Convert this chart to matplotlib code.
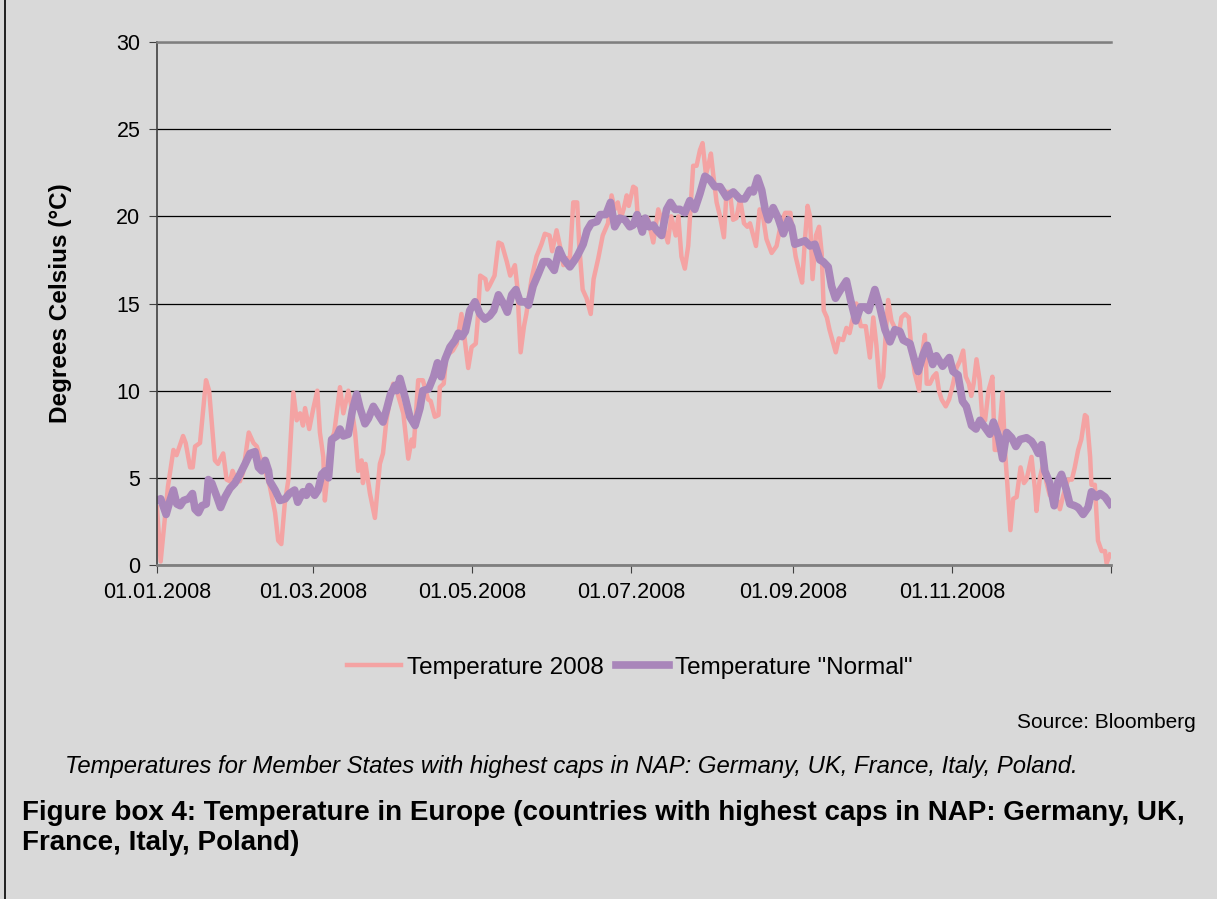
import matplotlib
matplotlib.use("Agg")
import matplotlib.pyplot as plt
from matplotlib.lines import Line2D
import pandas as pd

plt.rcParams['font.family'] = ['Liberation Sans', 'DejaVu Sans']

# Data: day of year 2008 and temperature (deg C)
t2008_day = [0, 1.4, 4.2, 6.3, 7.5, 10, 11, 12.7, 13.7, 14.6, 16.5, 18.8, 20, 22.2, 23.4, 24, 25.4,
             26.7, 28, 29, 30.5, 31.8, 33, 35.2, 37, 38.3, 39.5, 41.5, 43.3, 45.3, 46.5, 47.7, 49,
             50.4, 52.3, 53.6, 54.9, 56, 56.8, 58.4, 60, 61.5, 62.5, 63.8, 64.4, 65, 66.4, 68, 70.2,
             71.5, 73.4, 74.7, 76, 77.2, 78.5, 79, 80, 81.7, 83.6, 85.5, 86.7, 88, 89.4, 90.6, 92,
             94.5, 96.4, 97.7, 98.5, 100.2, 102, 104, 105, 106.6, 108, 108.5, 110, 111, 113.5, 115,
             116.8, 118, 119.4, 120.7, 122.3, 123, 124, 126, 126.7, 127.5, 129.5, 131, 132.3, 134.2,
             135.5, 137.3, 138.2, 139.5, 140.8, 141.7, 143.7, 145.6, 147.5, 148.8, 150.6, 151.6,
             153.3, 154.6, 155.9, 157, 158.4, 159.7, 161.2, 162, 163.3, 164.8, 166.4, 167.5, 169.3,
             171, 173, 174.4, 175.6, 176.8, 178, 179, 180.2, 181, 182.7, 183.7, 184.6, 186, 187,
             188.3, 190.4, 192.3, 193.6, 196, 197.3, 199, 200, 201.2, 202.5, 203.8, 204.5, 205.7,
             207, 208.3, 209.3, 210.6, 211.5, 212.5, 213.4, 214.7, 216, 217.5, 218.5, 219.8, 221,
             222.3, 223.7, 225.2, 226.5, 227.5, 229.8, 231.2, 232.5, 233.8, 235.8, 237.7, 239.4,
             241, 243, 243.8, 245, 246.6, 247.5, 248.6, 249.6, 250.5, 251.5, 252.8, 254, 255, 255.8,
             257, 258, 259.3, 260.4, 261.6, 263.2, 264.5, 265.7, 267, 268.3, 270, 271.9, 273.5,
             274.8, 276, 277.3, 278.6, 279.6, 280.5, 281.8, 283.4, 284.7, 285.6, 287, 288.4, 289.3,
             290.7, 292.4, 293.3, 294.6, 295.3, 296.5, 297.8, 299, 300, 301, 302.6, 303.9, 305.4,
             306.7, 308, 309.3, 310.3, 311.5, 312.4, 313.3, 314.4, 315.6, 316.6, 317.7, 319, 320.5,
             321.4, 322.6, 324.4, 325.3, 326.2, 327.4, 328.5, 329.8, 331.3, 332.6, 333.6, 335.5,
             336.8, 337.4, 338.7, 340, 341.3, 342.5, 344.2, 345.7, 346.4, 347.7, 349.5, 351, 352.1,
             353.4, 354.6, 356, 356.7, 358, 358.5, 359.8, 361, 362.4, 363.7, 364.3, 365.6]
t2008_val = [3.3, 0.2, 4.5, 6.6, 6.3, 7.4, 7.0, 5.6, 5.6, 6.8, 7.0, 10.6, 10.0, 6.0, 5.8, 6.0, 6.4,
             4.9, 4.8, 5.4, 4.8, 4.8, 5.3, 7.6, 7.0, 6.8, 6.2, 5.4, 4.5, 3.0, 1.4, 1.2, 3.5,
             4.9, 9.9, 8.3, 8.7, 8.0, 9.0, 7.8, 9.0, 10.0, 7.6, 6.2, 3.7, 4.6, 7.0, 7.6, 10.2,
             8.7, 10.0, 9.0, 7.6, 5.4, 6.0, 4.7, 5.8, 4.1, 2.7, 5.8, 6.4, 8.3, 9.5, 10.4, 10.0,
             8.7, 6.1, 7.2, 6.8, 10.6, 10.6, 9.5, 9.4, 8.5, 8.6, 10.2, 10.4, 12.0, 12.3, 12.7,
             14.4, 13.0, 11.3, 12.5, 12.7, 14.0, 16.6, 16.4, 15.8, 16.0, 16.6, 18.5, 18.4, 17.4,
             16.6, 17.2, 16.0, 12.2, 13.7, 14.4, 16.4, 17.7, 18.4, 19.0, 18.9, 18.0,
             19.2, 18.3, 17.2, 17.6, 17.6, 20.8, 20.8, 18.3, 15.8, 15.3, 14.4, 16.4, 17.6,
             18.9, 19.6, 21.2, 20.4, 20.8, 19.9, 20.4, 21.2, 20.6, 21.7, 21.6, 19.6, 19.8, 19.8,
             19.9, 18.5, 20.4, 19.8, 18.5, 20.0, 18.9, 20.0, 17.7, 17.0, 18.3, 20.0, 22.9,
             22.9, 23.8, 24.2, 22.4, 22.9, 23.6, 22.4, 20.8, 20.0, 18.8, 21.4, 21.4, 19.8,
             19.9, 21.0, 19.6, 19.4, 19.6, 18.3, 20.4, 20.0, 18.7, 17.9, 18.3, 19.6,
             20.2, 20.2, 19.0, 17.7, 16.7, 16.2, 18.7, 20.6, 20.0, 16.4, 18.9, 19.4, 17.9, 14.6,
             14.2, 13.5, 12.8, 12.2, 13.0, 12.9, 13.6, 13.3, 14.2, 15.0, 13.7, 13.7, 11.9,
             14.2, 12.6, 10.2, 10.8, 13.3, 15.2, 14.0, 13.5, 13.3, 14.2, 14.4, 14.2, 12.6,
             11.0, 10.0, 11.9, 13.2, 10.4, 10.4, 10.8, 11.0, 10.0, 9.5, 9.1, 9.5, 10.4,
             11.3, 11.7, 12.3, 10.8, 10.4, 9.7, 10.4, 11.8, 10.6, 8.5, 8.3, 10.0, 10.8,
             6.6, 6.6, 9.9, 6.6, 4.7, 2.0, 3.8, 3.9, 5.6, 4.7, 4.9, 6.2,
             4.4, 3.1, 5.0, 5.8, 4.7, 4.0, 4.1, 3.6, 3.2, 4.0, 4.9, 4.9, 5.6,
             6.6, 7.2, 8.6, 8.5, 6.2, 4.6, 4.6, 1.4, 0.8, 0.8, 0.1, 0.6]

normal_day = [0, 1.4, 3.5, 5, 6.3, 7.6, 8.9, 10.2, 12.1, 13.6, 14.6, 15.9, 17.2, 18.9, 19.7, 21, 23,
              24.4, 26.1, 28, 29.9, 31.8, 33.8, 35.7, 37.6, 38.9, 40.2, 41.5, 42.8, 43.3, 45.3,
              47.2, 49.2, 50.8, 52.8, 54, 56, 57.3, 58.4, 60.5, 61.8, 63.2, 64.5, 65.8, 67, 69,
              70.2, 71.5, 73.4, 75, 76.6, 77.9, 79.8, 81.1, 83, 85, 86.7, 88.2, 89.6, 91.3, 92,
              93.2, 95.2, 97, 99, 100.9, 102, 104.2, 106.1, 107.6, 109, 110.5, 112.4, 114.4, 115.6,
              117, 118.3, 120, 122, 123.9, 125.8, 127.7, 129.2, 131, 132.9, 134.4, 136.1, 137.7,
              139.3, 141.3, 142.5, 144.3, 146.3, 148.2, 150.1, 152.4, 154.3, 155.8, 158.4, 160.3,
              161.5, 163.5, 165, 166.6, 168.8, 170.1, 172.2, 174, 175.6, 177.5, 179.5, 181.4,
              182.7, 184.2, 186.2, 187.3, 188.8, 190.4, 191.7, 193.6, 195.5, 197, 198.7, 200.6,
              202.5, 204.4, 206.3, 208.3, 210.2, 212.1, 214, 216, 218.5, 221.1, 223.6, 225.5,
              227.5, 228.8, 230.4, 232, 233.3, 234.5, 236.4, 238.3, 240.3, 242.2, 243.5, 244.7,
              246.6, 248.6, 250.5, 252.4, 254.3, 255.6, 257.5, 258.8, 260.3, 262.3, 264.5, 266.1,
              268.1, 269.9, 271.6, 273, 275.4, 277.3, 279.3, 281.2, 283.1, 285, 286.3, 288.9,
              290.5, 292, 294, 295.5, 297.6, 299, 301.4, 304, 305.4, 307.3, 309, 310.5, 312.5,
              314.2, 315.7, 317.6, 319.5, 320.9, 322.8, 324.4, 326, 327.9, 329.5, 331.1, 333.6,
              335.5, 336.8, 338.1, 339.4, 340.6, 342.5, 344.2, 345.7, 347, 348.9, 350.2, 352.1,
              353.4, 355.3, 357.2, 358.5, 360.4, 361.8, 363.7, 365.6]
normal_val = [3.7, 3.8, 2.9, 3.7, 4.3, 3.5, 3.4, 3.7, 3.8, 4.1, 3.2, 3.0, 3.4, 3.5, 4.9, 4.7, 3.9,
              3.3, 3.9, 4.4, 4.7, 5.2, 5.8, 6.4, 6.5, 5.6, 5.4, 6.0, 5.4, 4.8, 4.3,
              3.7, 3.8, 4.1, 4.3, 3.6, 4.2, 4.0, 4.5, 4.0, 4.3, 5.2, 5.4, 5.0, 7.2, 7.4,
              7.8, 7.4, 7.5, 8.9, 9.8, 9.0, 8.1, 8.4, 9.1, 8.6, 8.2, 9.0, 9.8, 10.3, 10.0,
              10.7, 9.6, 8.5, 8.0, 9.0, 10.0, 10.1, 10.8, 11.6, 10.8, 11.8, 12.5, 12.9, 13.3,
              13.1, 13.4, 14.6, 15.1, 14.4, 14.1, 14.3, 14.6, 15.5, 15.0, 14.5, 15.5, 15.8,
              15.1, 15.1, 14.9, 16.0, 16.7, 17.4, 17.4, 16.9, 18.1, 17.6, 17.1, 17.5,
              17.8, 18.4, 19.2, 19.6, 19.7, 20.1, 20.1, 20.8, 19.4, 19.9, 19.8, 19.4,
              19.5, 20.1, 19.1, 19.9, 19.4, 19.5, 19.2, 18.9, 20.4, 20.8, 20.4, 20.4,
              20.2, 20.9, 20.4, 21.3, 22.3, 22.1, 21.7, 21.7, 21.1, 21.4, 21.0, 21.0,
              21.5, 21.4, 22.2, 21.5, 20.4, 19.8, 20.5, 19.9, 19.0, 19.8, 19.4, 18.4,
              18.5, 18.6, 18.3, 18.4, 17.5, 17.4, 17.1, 16.0, 15.3, 15.8, 16.3, 15.2,
              14.0, 14.8, 14.8, 14.6, 15.8, 14.8, 13.5, 12.8, 13.5, 13.4, 12.9, 12.7,
              11.8, 11.1, 12.1, 12.6, 11.5, 12.0, 11.4, 11.9, 11.1, 10.9, 9.4, 9.1, 8.0,
              7.8, 8.3, 7.9, 7.5, 8.2, 7.4, 6.1, 7.6, 7.3, 6.8, 7.2, 7.3,
              7.1, 6.8, 6.4, 6.9, 5.4, 4.7, 3.4, 4.8, 5.2, 4.3, 3.5, 3.4,
              3.3, 2.9, 3.3, 4.2, 3.9, 4.1, 3.9, 3.5]

start = pd.Timestamp('2008-01-01')
x2008 = start + pd.to_timedelta(t2008_day, unit='D')
xnorm = start + pd.to_timedelta(normal_day, unit='D')

bg = '#D9D9D9'
pink = '#F4A3A3'
purple = '#A986BA'

fig = plt.figure(figsize=(12.17, 8.99), dpi=100, facecolor=bg)
ax = fig.add_axes([157/1217, 1-565/899, (1111-157)/1217, (565-42)/899])
ax.set_facecolor(bg)

ax.plot(x2008, t2008_val, color=pink, lw=3.2, solid_joinstyle='round', label='Temperature 2008')
ax.plot(xnorm, normal_val, color=purple, lw=5.5, solid_joinstyle='round',
        label='Temperature "Normal"')

ax.set_ylim(0, 30)
ax.set_yticks(range(0, 31, 5))
ax.set_xlim(start, pd.Timestamp('2009-01-01'))
ticks = pd.date_range('2008-01-01', '2009-01-01', freq='2MS')
ax.set_xticks(ticks)
ax.set_xticklabels([d.strftime('%d.%m.%Y') for d in ticks[:-1]] + [''])

ax.set_axisbelow(True)
ax.yaxis.grid(True, color='black', lw=0.9)
ax.spines['right'].set_visible(False)
ax.spines['top'].set_color('#7F7F7F')
ax.spines['top'].set_linewidth(1.8)
ax.spines['left'].set_color('#404040')
ax.spines['left'].set_linewidth(1.2)
ax.spines['bottom'].set_color('#7F7F7F')
ax.spines['bottom'].set_linewidth(2)
ax.tick_params(axis='both', direction='out', length=6, labelsize=15.5, colors='#404040',
               labelcolor='black', pad=6)

ax.set_ylabel('Degrees Celsius (°C)', fontsize=17.5, fontweight='bold', labelpad=32)

ax.legend(loc='center', bbox_to_anchor=(630/1217, 1-668/899), bbox_transform=fig.transFigure,
          ncol=2, frameon=False, fontsize=17.5, handlelength=2.2, handletextpad=0.25,
          columnspacing=0.5)

fig.text(1196/1217, 1-723/899, 'Source: Bloomberg', ha='right', va='center', fontsize=15)
fig.text(65/1217, 1-767/899,
         'Temperatures for Member States with highest caps in NAP: Germany, UK, France, Italy, Poland.',
         ha='left', va='center', fontsize=17.2, style='italic')
fig.text(22/1217, 1-813/899,
         'Figure box 4: Temperature in Europe (countries with highest caps in NAP: Germany, UK,',
         ha='left', va='center', fontsize=20, fontweight='bold')
fig.text(22/1217, 1-843/899, 'France, Italy, Poland)', ha='left', va='center', fontsize=20,
         fontweight='bold')

fig.add_artist(Line2D([5/1217, 5/1217], [0, 1], transform=fig.transFigure, color='black', lw=1.2))

fig.savefig('out.png', dpi=100, facecolor=bg)
